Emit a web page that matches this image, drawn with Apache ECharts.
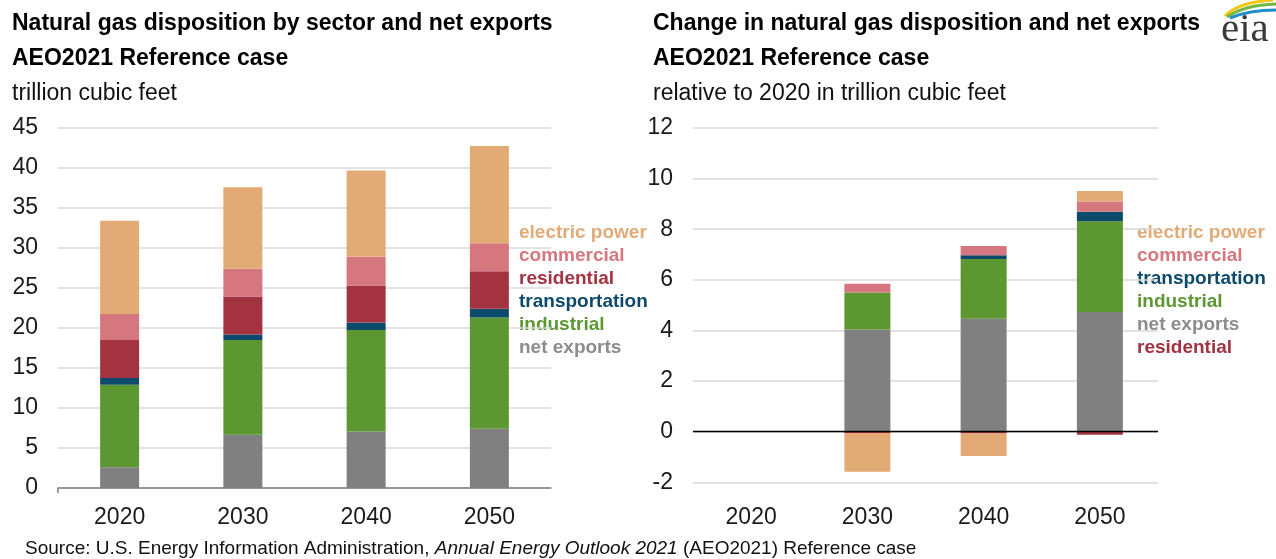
<!DOCTYPE html>
<html>
<head>
<meta charset="utf-8">
<script src="https://cdn.jsdelivr.net/npm/echarts@6/dist/echarts.min.js"></script>
<style>
html,body{margin:0;padding:0;background:#fff;}
#chart{width:1276px;height:559px;}
</style>
</head>
<body>
<div id="chart"></div>
<script>
// ---------- data ----------
const years = ['2020', '2030', '2040', '2050'];

// left panel: disposition by sector (trillion cubic feet)
const netExports     = [2.6, 6.65, 7.05, 7.4];
const industrial     = [10.3, 11.85, 12.7, 13.9];
const transportation = [0.85, 0.7, 0.95, 1.1];
const residential    = [4.75, 4.75, 4.6, 4.7];
const commercial     = [3.25, 3.45, 3.6, 3.5];
const electricPower  = [11.65, 10.2, 10.8, 12.15];

// right panel: change relative to 2020 (trillion cubic feet)
const chgResidential    = [0, -0.05, -0.07, -0.12];
const chgNetExports     = [0, 4.04, 4.46, 4.73];
const chgIndustrial     = [0, 1.46, 2.36, 3.59];
const chgTransportation = [0, 0.0, 0.15, 0.37];
const chgCommercial     = [0, 0.35, 0.37, 0.41];
const chgElectricPower  = [0, -1.53, -0.89, 0.41];

const leftTicks  = {min: 0, max: 45, interval: 5};
const rightTicks = {min: -2, max: 12, interval: 2};

const leftLegend  = ['electric power', 'commercial', 'residential', 'transportation', 'industrial', 'net exports'];
const rightLegend = ['electric power', 'commercial', 'transportation', 'industrial', 'net exports', 'residential'];

// ---------- styles ----------
const C = {
  'electric power': '#E2AB76',
  'commercial': '#D6767F',
  'residential': '#A33340',
  'transportation': '#0C4A6B',
  'industrial': '#5C9732',
  'net exports': '#808080'
};
const legendTextColor = {
  'electric power': '#E2AB76',
  'commercial': '#D6767F',
  'residential': '#A33340',
  'transportation': '#0C4A6B',
  'industrial': '#5C9732',
  'net exports': '#8C8C8C'
};
const FONT = '"Liberation Sans", Arial, sans-serif';

const chart = echarts.init(document.getElementById('chart'), null, {renderer: 'canvas'});

function bar(name, data, xi, stack, width) {
  return {
    name: name, type: 'bar', stack: stack, data: data,
    xAxisIndex: xi, yAxisIndex: xi, barWidth: width,
    itemStyle: {color: C[name]},
    emphasis: {disabled: true}
  };
}

const series = [
  bar('net exports', netExports, 0, 'L', 39),
  bar('industrial', industrial, 0, 'L', 39),
  bar('transportation', transportation, 0, 'L', 39),
  bar('residential', residential, 0, 'L', 39),
  bar('commercial', commercial, 0, 'L', 39),
  bar('electric power', electricPower, 0, 'L', 39),

  bar('residential', chgResidential, 1, 'R', 46),
  bar('net exports', chgNetExports, 1, 'R', 46),
  bar('industrial', chgIndustrial, 1, 'R', 46),
  bar('transportation', chgTransportation, 1, 'R', 46),
  bar('commercial', chgCommercial, 1, 'R', 46),
  bar('electric power', chgElectricPower, 1, 'R', 46)
];
series[6].markLine = {
  silent: true, symbol: 'none', label: {show: false},
  lineStyle: {color: '#000', width: 1.3, type: 'solid'},
  data: [{yAxis: 0}]
};

const graphics = [];
function txt(x, y, text, opts) {
  graphics.push({
    type: 'text', left: x, top: y, silent: true,
    style: Object.assign({text: text, font: 'bold 23px ' + FONT, fill: '#000', textVerticalAlign: 'top'}, opts || {})
  });
}
txt(12, 12, 'Natural gas disposition by sector and net exports');
txt(12, 47, 'AEO2021 Reference case');
txt(12, 82, 'trillion cubic feet', {font: '23px ' + FONT, fill: '#111'});
txt(653, 12, 'Change in natural gas disposition and net exports');
txt(653, 47, 'AEO2021 Reference case');
txt(653, 82, 'relative to 2020 in trillion cubic feet', {font: '23px ' + FONT, fill: '#111'});

leftLegend.forEach((n, i) => {
  graphics.push({type: 'text', left: 519, top: 223 + i * 23.1, silent: true,
    style: {text: n, font: 'bold 19px ' + FONT, fill: legendTextColor[n]}});
});
rightLegend.forEach((n, i) => {
  graphics.push({type: 'text', left: 1137, top: 223 + i * 23.1, silent: true,
    style: {text: n, font: 'bold 19px ' + FONT, fill: legendTextColor[n]}});
});

graphics.push({
  type: 'text', left: 25, top: 539, silent: true,
  style: {
    text: '{n|Source: U.S. Energy Information Administration, }{i|Annual Energy Outlook 2021}{n| (AEO2021) Reference case}',
    rich: {
      n: {font: '19px ' + FONT, fill: '#111'},
      i: {font: 'italic 19px ' + FONT, fill: '#111'}
    }
  }
});

// small tick at the left end of the left x axis
graphics.push({type: 'line', silent: true, shape: {x1: 58, y1: 488, x2: 58, y2: 493},
  style: {stroke: '#7f7f7f', lineWidth: 1.5}});

// eia logo
graphics.push({type: 'text', left: 1221, top: 10, silent: true,
  style: {text: 'eia', font: '41px "Liberation Serif", "DejaVu Serif", serif', fill: '#3a3a3a'}});
graphics.push({type: 'bezierCurve', silent: true, shape: {x1: 1225, y1: 16, x2: 1273, y2: 0, cpx1: 1239, cpy1: 2},
  style: {stroke: '#F2C811', lineWidth: 3, fill: null}});
graphics.push({type: 'bezierCurve', silent: true, shape: {x1: 1227, y1: 17, x2: 1276, y2: 4, cpx1: 1244, cpy1: 5},
  style: {stroke: '#74B843', lineWidth: 3, fill: null}});
graphics.push({type: 'bezierCurve', silent: true, shape: {x1: 1230, y1: 18, x2: 1276, y2: 10, cpx1: 1249, cpy1: 10},
  style: {stroke: '#1F8FC9', lineWidth: 3, fill: null}});

const axisLabel = {color: '#1a1a1a', fontSize: 23, fontFamily: FONT};

chart.setOption({
  animation: false,
  backgroundColor: '#fff',
  grid: [
    {left: 58, top: 128, width: 493, height: 360},
    {left: 693, top: 128, width: 465, height: 354.3}
  ],
  xAxis: [
    {type: 'category', data: years, gridIndex: 0,
      axisLine: {show: true, lineStyle: {color: '#7f7f7f', width: 1.5}},
      axisTick: {show: false},
      axisLabel: Object.assign({margin: 18}, axisLabel)},
    {type: 'category', data: years, gridIndex: 1,
      axisLine: {show: false}, axisTick: {show: false},
      axisLabel: Object.assign({margin: 24}, axisLabel)}
  ],
  yAxis: [
    {type: 'value', gridIndex: 0, min: leftTicks.min, max: leftTicks.max, interval: leftTicks.interval,
      axisLine: {show: false}, axisTick: {show: false},
      splitLine: {lineStyle: {color: '#d9d9d9', width: 1.5}},
      axisLabel: Object.assign({margin: 20}, axisLabel)},
    {type: 'value', gridIndex: 1, min: rightTicks.min, max: rightTicks.max, interval: rightTicks.interval,
      axisLine: {show: false}, axisTick: {show: false},
      splitLine: {lineStyle: {color: '#d9d9d9', width: 1.5}},
      axisLabel: Object.assign({margin: 20}, axisLabel)}
  ],
  series: series,
  graphic: graphics
});
</script>
</body>
</html>
